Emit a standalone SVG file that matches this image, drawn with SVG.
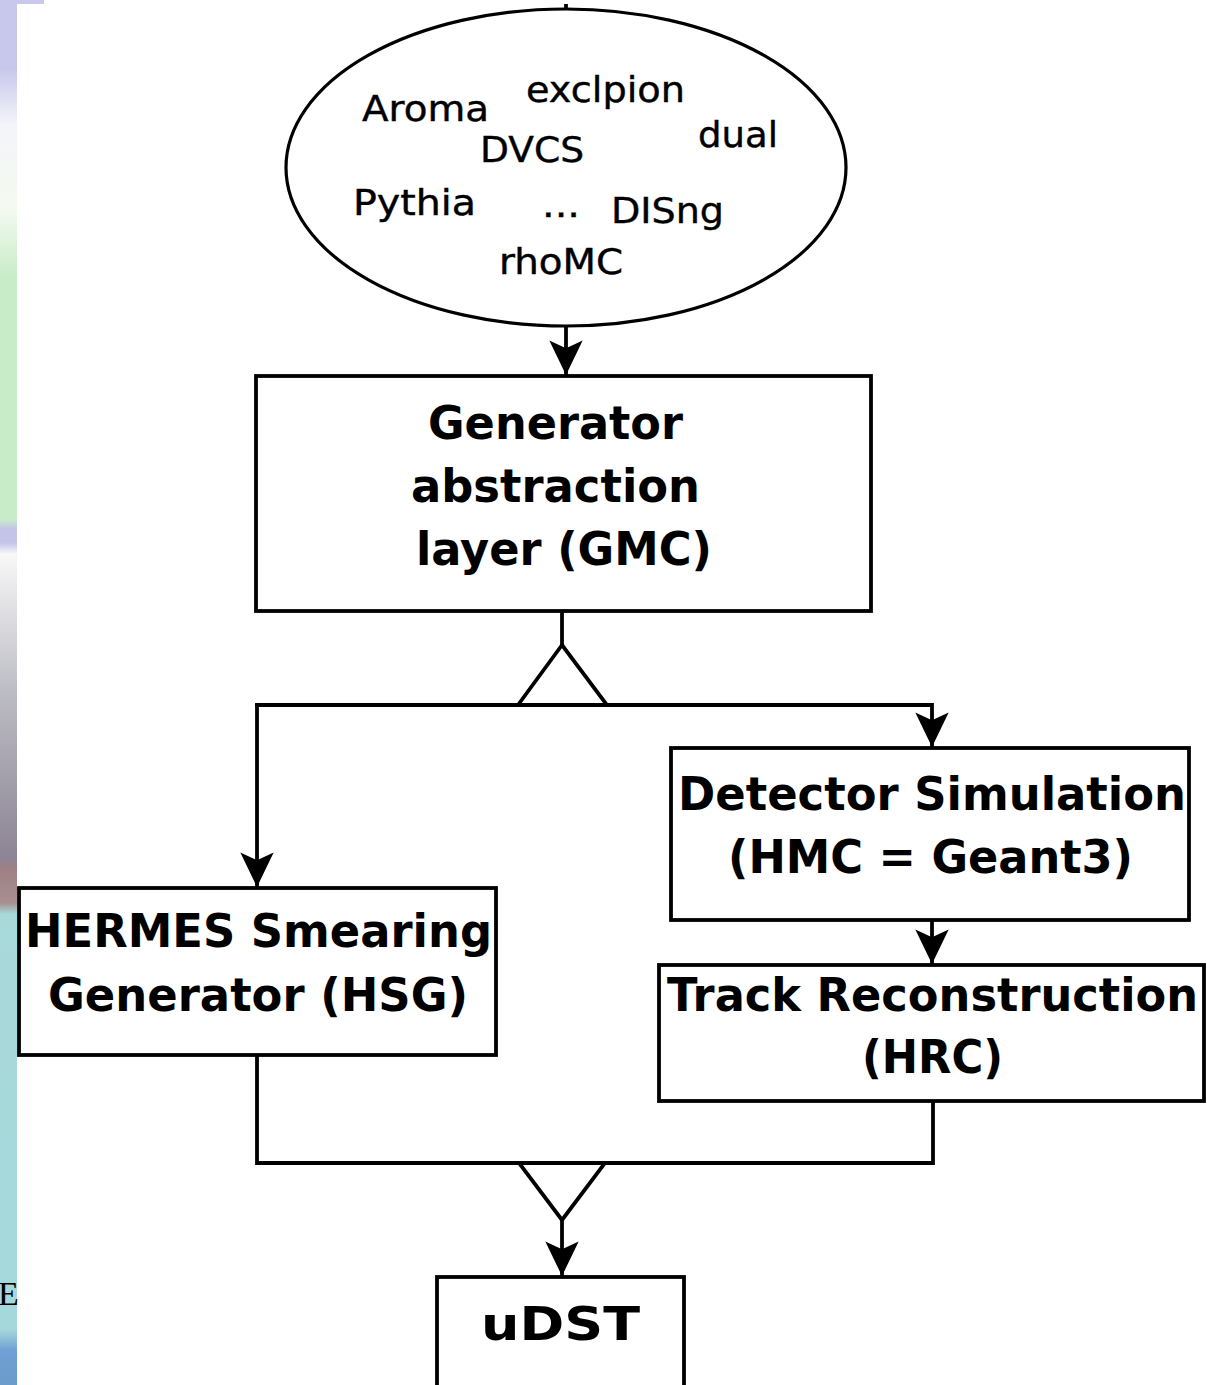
<svg xmlns="http://www.w3.org/2000/svg" width="1207" height="1385" viewBox="0 0 1207 1385">
  <defs>
    <linearGradient id="strip" x1="0" y1="0" x2="0" y2="1385" gradientUnits="userSpaceOnUse">
      <stop offset="0" stop-color="#c8c8ec"/>
      <stop offset="0.05" stop-color="#c8c8ec"/>
      <stop offset="0.09" stop-color="#f4f4fa"/>
      <stop offset="0.15" stop-color="#f4faf0"/>
      <stop offset="0.2" stop-color="#c8ecc8"/>
      <stop offset="0.375" stop-color="#c8ecc8"/>
      <stop offset="0.382" stop-color="#c4c4ea"/>
      <stop offset="0.392" stop-color="#c4c4ea"/>
      <stop offset="0.4" stop-color="#f8f8f8"/>
      <stop offset="0.5" stop-color="#bcbcc4"/>
      <stop offset="0.62" stop-color="#8c8494"/>
      <stop offset="0.628" stop-color="#a08084"/>
      <stop offset="0.652" stop-color="#a89090"/>
      <stop offset="0.66" stop-color="#a8dada"/>
      <stop offset="0.96" stop-color="#a4d8da"/>
      <stop offset="0.975" stop-color="#70a0d4"/>
      <stop offset="1" stop-color="#6c9ccc"/>
    </linearGradient>
    <marker id="arr" markerUnits="userSpaceOnUse" markerWidth="40" markerHeight="40" viewBox="-34 -17 36 34" refX="0" refY="0" orient="auto">
      <path d="M0,0 L-31,-15 L-24,0 L-31,15 Z" fill="#000"/>
    </marker>
    <style>
      .box { fill: #fff; stroke: #000; stroke-width: 3.8; }
      .ell { fill: #fff; stroke: #000; stroke-width: 3.2; }
      .ln { fill: none; stroke: #000; stroke-width: 3.8; stroke-linejoin: miter; }
      .bt { font-family: "DejaVu Sans", "Liberation Sans", sans-serif; font-weight: bold; font-size: 46px; fill: #000; }
      .et { font-family: "DejaVu Sans", "Liberation Sans", sans-serif; font-size: 35px; fill: #000; stroke: #000; stroke-width: 0.4; }
    </style>
  </defs>

  <rect x="0" y="0" width="1207" height="1385" fill="#fff"/>
  <rect x="0" y="0" width="17" height="1385" fill="url(#strip)"/>
  <rect x="0" y="0" width="44" height="4" fill="#c8c8ec"/>
  <text x="-2" y="1305" font-family="Liberation Serif, serif" font-size="34" fill="#000">E</text>

  <g id="connectors">
    <line class="ln" x1="566" y1="4" x2="566" y2="10"/>
    <line class="ln" x1="566" y1="326" x2="566" y2="375" marker-end="url(#arr)"/>
    <polyline class="ln" points="562,611 562,645"/>
    <polygon class="ln" points="562,645 518,705 607,705"/>
    <polyline class="ln" points="255.1,705 932,705 932,747" marker-end="url(#arr)"/>
    <line class="ln" x1="257" y1="703.1" x2="257" y2="887" marker-end="url(#arr)"/>
    <line class="ln" x1="932" y1="920" x2="932" y2="964" marker-end="url(#arr)"/>
    <polyline class="ln" points="257,1055 257,1163 933,1163 933,1101"/>
    <polygon class="ln" points="519,1163 605,1163 562,1220"/>
    <line class="ln" x1="562" y1="1220" x2="562" y2="1276" marker-end="url(#arr)"/>
  </g>

  <g id="generators">
    <ellipse class="ell" cx="566" cy="167.5" rx="280" ry="158.5"/>
    <text class="et" x="362" y="121" textLength="127" lengthAdjust="spacingAndGlyphs">Aroma</text>
    <text class="et" x="526" y="102" textLength="159" lengthAdjust="spacingAndGlyphs">exclpion</text>
    <text class="et" x="698" y="147" textLength="80" lengthAdjust="spacingAndGlyphs">dual</text>
    <text class="et" x="480" y="162" textLength="104" lengthAdjust="spacingAndGlyphs">DVCS</text>
    <text class="et" x="353" y="215" textLength="123" lengthAdjust="spacingAndGlyphs">Pythia</text>
    <text class="et" x="542" y="217" textLength="38" lengthAdjust="spacingAndGlyphs">...</text>
    <text class="et" x="611" y="223" textLength="113" lengthAdjust="spacingAndGlyphs">DISng</text>
    <text class="et" x="499" y="274" textLength="124" lengthAdjust="spacingAndGlyphs">rhoMC</text>
  </g>

  <g id="gmc">
    <rect class="box" x="256" y="376" width="615" height="235"/>
    <text class="bt" x="428" y="439" textLength="255" lengthAdjust="spacingAndGlyphs">Generator</text>
    <text class="bt" x="411" y="502" textLength="289" lengthAdjust="spacingAndGlyphs">abstraction</text>
    <text class="bt" x="416" y="565" textLength="296" lengthAdjust="spacingAndGlyphs">layer (GMC)</text>
  </g>

  <g id="hmc">
    <rect class="box" x="671" y="748" width="518" height="172"/>
    <text class="bt" x="678" y="810" textLength="508" lengthAdjust="spacingAndGlyphs">Detector Simulation</text>
    <text class="bt" x="728" y="873" textLength="405" lengthAdjust="spacingAndGlyphs">(HMC = Geant3)</text>
  </g>

  <g id="hsg">
    <rect class="box" x="19" y="888" width="477" height="167"/>
    <text class="bt" x="25" y="947" textLength="467" lengthAdjust="spacingAndGlyphs">HERMES Smearing</text>
    <text class="bt" x="48" y="1011" textLength="420" lengthAdjust="spacingAndGlyphs">Generator (HSG)</text>
  </g>

  <g id="hrc">
    <rect class="box" x="659" y="965" width="545" height="136"/>
    <text class="bt" x="667" y="1011" textLength="531" lengthAdjust="spacingAndGlyphs">Track Reconstruction</text>
    <text class="bt" x="862" y="1073" textLength="141" lengthAdjust="spacingAndGlyphs">(HRC)</text>
  </g>

  <g id="udst">
    <rect class="box" x="437" y="1277" width="247" height="130"/>
    <text class="bt" x="481" y="1340" font-size="56" textLength="159" lengthAdjust="spacingAndGlyphs">uDST</text>
  </g>
</svg>
